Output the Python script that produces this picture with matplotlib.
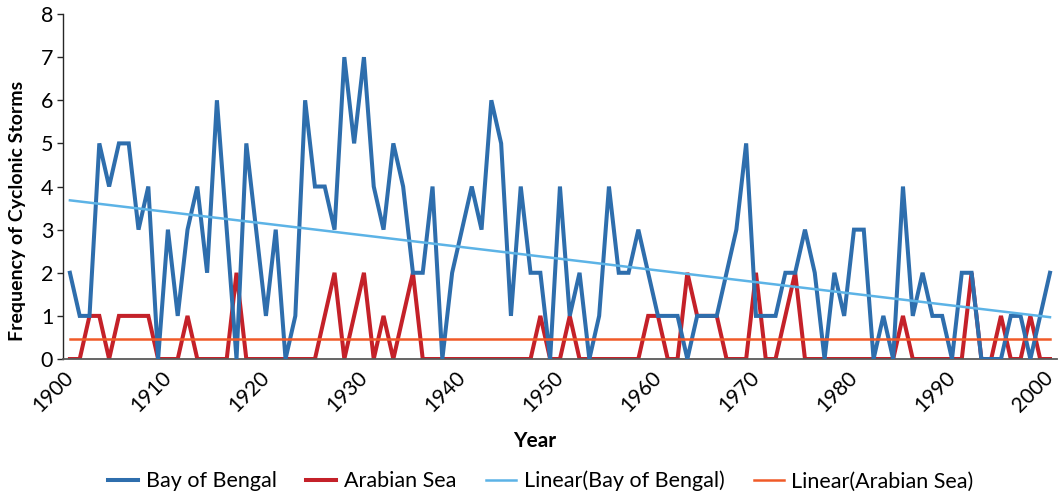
import numpy as np
import matplotlib
matplotlib.use("Agg")
import matplotlib.pyplot as plt
import matplotlib.transforms as mtransforms

plt.rcParams['font.family'] = ['Lato', 'DejaVu Sans']

years = list(range(1900, 2001))

bay_of_bengal = [
    2, 1, 1, 5, 4, 5, 5, 3, 4, 0,      # 1900s
    3, 1, 3, 4, 2, 6, 3, 0, 5, 3,      # 1910s
    1, 3, 0, 1, 6, 4, 4, 3, 7, 5,      # 1920s
    7, 4, 3, 5, 4, 2, 2, 4, 0, 2,      # 1930s
    3, 4, 3, 6, 5, 1, 4, 2, 2, 0,      # 1940s
    4, 1, 2, 0, 1, 4, 2, 2, 3, 2,      # 1950s
    1, 1, 1, 0, 1, 1, 1, 2, 3, 5,      # 1960s
    1, 1, 1, 2, 2, 3, 2, 0, 2, 1,      # 1970s
    3, 3, 0, 1, 0, 4, 1, 2, 1, 1,      # 1980s
    0, 2, 2, 0, 0, 0, 1, 1, 0, 1,      # 1990s
    2,                                 # 2000
]

arabian_sea = [
    0, 0, 1, 1, 0, 1, 1, 1, 1, 0,
    0, 0, 1, 0, 0, 0, 0, 2, 0, 0,
    0, 0, 0, 0, 0, 0, 1, 2, 0, 1,
    2, 0, 1, 0, 1, 2, 0, 0, 0, 0,
    0, 0, 0, 0, 0, 0, 0, 0, 1, 0,
    0, 1, 0, 0, 0, 0, 0, 0, 0, 1,
    1, 0, 0, 2, 1, 1, 1, 0, 0, 0,
    2, 0, 0, 1, 2, 0, 0, 0, 0, 0,
    0, 0, 0, 0, 0, 1, 0, 0, 0, 0,
    0, 0, 2, 0, 0, 1, 0, 0, 1, 0,
    0,
]

# linear trendline end points (1900 and 2000)
trend_years = [1900, 2000]
trend_bay = [3.68, 0.97]
trend_arabian = [0.47, 0.47]

c_bay = '#2E6EAD'
c_arab = '#C42129'
c_bay_trend = '#5CB3E6'
c_arab_trend = '#F05A28'

fig = plt.figure(figsize=(10.58, 4.95), dpi=100)
ax = fig.add_axes([0.0595, 0.2747, 0.9395, 0.697])

ax.plot(years, arabian_sea, color=c_arab, lw=2.9, label='Arabian Sea', zorder=2,
        solid_joinstyle='miter')
ax.plot(years, bay_of_bengal, color=c_bay, lw=2.9, label='Bay of Bengal', zorder=3,
        solid_joinstyle='miter')
ax.plot(trend_years, trend_bay, color=c_bay_trend, lw=1.8,
        label='Linear(Bay of Bengal)', zorder=4)
ax.plot(trend_years, trend_arabian, color=c_arab_trend, lw=1.8,
        label='Linear(Arabian Sea)', zorder=4)

ax.set_xlim(1899.29, 2000.71)
ax.set_ylim(0, 8)
ax.set_yticks(range(0, 9))
ax.set_xticks(range(1900, 2001, 10))

for s in ['top', 'right']:
    ax.spines[s].set_visible(False)
ax.spines['left'].set_color('#262626')
ax.spines['bottom'].set_color('#595959')
ax.spines['left'].set_linewidth(1.0)
ax.spines['bottom'].set_linewidth(1.3)

ax.tick_params(axis='y', length=4, width=1, color='#262626', labelsize=15.5, pad=3)
ax.tick_params(axis='x', length=0, labelsize=15, pad=6)
# nudge the rotated year labels so their ends sit just right of each tick
shift = mtransforms.ScaledTranslation(-7 / 100, 0, fig.dpi_scale_trans)
for lbl in ax.get_xticklabels():
    lbl.set_rotation(45)
    lbl.set_ha('right')
    lbl.set_va('top')
    lbl.set_rotation_mode('anchor')
    lbl.set_transform(lbl.get_transform() + shift)

ax.set_ylabel('Frequency of Cyclonic Storms', fontsize=14, fontweight='bold')
ax.yaxis.set_label_coords(-0.037, 0.43)
ax.set_xlabel('Year', fontsize=15, fontweight='bold')
ax.xaxis.set_label_coords(0.475, -0.21)

handles, labels = ax.get_legend_handles_labels()
order = [1, 0, 2, 3]
ax.legend([handles[i] for i in order], [labels[i] for i in order],
          loc='center', bbox_to_anchor=(541 / 1058, 0.028), bbox_transform=fig.transFigure,
          ncol=4, frameon=False, fontsize=15.5, handlelength=1.4, columnspacing=1.37,
          handletextpad=0.35, borderpad=0)

fig.savefig('out.png', dpi=100)
